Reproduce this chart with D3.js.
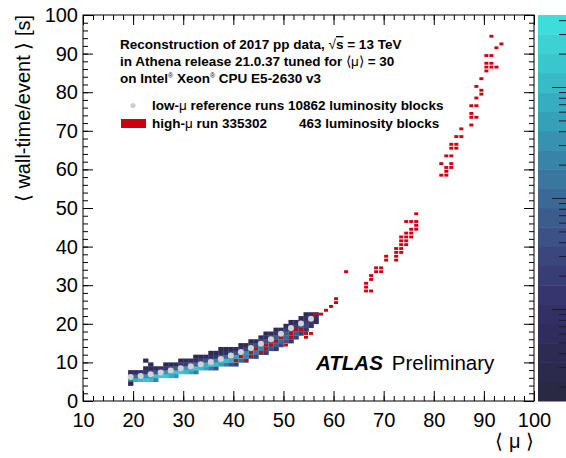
<!DOCTYPE html>
<html>
<head>
<meta charset="utf-8">
<script src="https://cdn.jsdelivr.net/npm/d3@7"></script>
<style>
body { margin: 0; background: #fff; }
svg { display: block; font-family: "Liberation Sans", Arial, Helvetica, sans-serif; }
</style>
</head>
<body>
<div id="chart"></div>
<script>
var width = 566
var height = 458

var xTicks = [10, 20, 30, 40, 50, 60, 70, 80, 90, 100]
var yTicks = [0, 10, 20, 30, 40, 50, 60, 70, 80, 90, 100]

// low-mu reference runs: mean wall-time per <mu>
var refMu = [19.5, 21.5, 23.5, 25.5, 27.5, 29.5, 31.5, 33.5, 35.5, 37.5,
    39.5, 41.5, 43.5, 45.5, 47.5, 49.5, 51.5, 53.5, 55.5]
var refTime = [6.2, 6.5, 6.9, 7.4, 7.9, 8.5, 9.0, 9.5, 10.1, 10.9,
    11.8, 12.7, 13.7, 14.8, 16.0, 17.4, 18.9, 20.1, 21.3]

// 2D histogram of the reference runs: [mu bin, lowest time bin, colour level of each bin going up]
var refCells = [
    [19, 5, [12, 8, 3]],
    [20, 5, [15, 10, 3]],
    [21, 5, [16, 12, 4]],
    [22, 5, [17, 13, 5, 2]],
    [23, 5, [16, 14, 6, 2]],
    [24, 5, [12, 17, 8, 3]],
    [25, 6, [17, 12, 4]],
    [26, 6, [17, 13, 5, 2]],
    [27, 6, [15, 15, 7, 2]],
    [28, 6, [13, 17, 9, 3]],
    [29, 7, [17, 12, 5, 2]],
    [30, 7, [16, 14, 6, 2]],
    [31, 7, [14, 16, 8, 3]],
    [32, 7, [11, 17, 10, 4, 2]],
    [33, 8, [16, 13, 6, 2]],
    [34, 8, [14, 15, 8, 3]],
    [35, 8, [11, 17, 10, 4, 2]],
    [36, 8, [8, 16, 12, 5, 2]],
    [37, 9, [14, 15, 8, 3, 2]],
    [38, 9, [11, 16, 10, 4, 2]],
    [39, 9, [8, 15, 12, 6, 2]],
    [40, 9, [6, 13, 14, 8, 3]],
    [41, 10, [10, 14, 11, 5, 2]],
    [42, 10, [7, 12, 13, 7, 3]],
    [43, 11, [10, 13, 11, 6, 2]],
    [44, 11, [7, 11, 13, 8, 3]],
    [45, 12, [9, 12, 11, 6, 3]],
    [46, 12, [6, 10, 12, 8, 4, 2]],
    [47, 13, [8, 11, 11, 7, 3]],
    [48, 13, [5, 9, 11, 9, 5, 2]],
    [49, 14, [7, 10, 10, 7, 3]],
    [50, 15, [8, 10, 9, 6, 3]],
    [51, 15, [5, 8, 10, 8, 4, 2]],
    [52, 16, [6, 9, 9, 6, 3]],
    [53, 17, [6, 8, 8, 5, 2]],
    [54, 18, [5, 7, 6, 4, 2]],
    [55, 19, [4, 5, 5, 3]],
    [56, 20, [3, 4, 2]]
]
// isolated bins off the band: [mu bin, time bin, level]
var refExtra = [[19, 4, 2], [22, 10, 1], [23, 9, 2]]

// high-mu run 335302, filled bins (bin centres)
var runMu = [40.5, 41.5, 42.5, 43.5, 43.5, 44.5, 45.5, 46.5, 46.5, 47.5, 47.5, 48.5, 49.5, 50.5, 51.5, 51.5,
    52.5, 53.5, 54.5, 55.5, 54.5, 56.5, 57.5, 58.5, 59.5, 60.5, 60.5, 62.5,
    66.5, 66.5, 66.5, 67.5, 67.5, 67.5, 68.5, 68.5, 69.5, 69.5, 70.5, 70.5,
    72.5, 72.5, 72.5, 72.5, 73.5, 73.5, 73.5, 73.5, 73.5, 74.5, 74.5, 74.5, 74.5, 74.5,
    75.5, 75.5, 75.5, 75.5, 76.5, 76.5, 76.5, 76.5,
    81.5, 81.5, 82.5, 82.5, 82.5, 82.5, 83.5, 83.5, 83.5, 83.5, 83.5, 84.5, 84.5, 84.5,
    85.5, 85.5, 87.5, 87.5, 87.5, 87.5, 88.5, 88.5, 88.5, 88.5, 89.5, 89.5, 89.5,
    90.5, 90.5, 90.5, 90.5, 91.5, 91.5, 91.5, 91.5, 92.5, 92.5, 93.5]
var runTime = [10.5, 11.5, 10.5, 11.5, 12.5, 13.5, 12.5, 13.5, 14.5, 14.5, 15.5, 15.5, 16.5, 14.5, 16.5, 17.5,
    18.5, 18.5, 16.5, 17.5, 17.5, 22.5, 22.5, 23.5, 24.5, 25.5, 26.5, 33.5,
    28.5, 29.5, 30.5, 28.5, 31.5, 32.5, 33.5, 34.5, 33.5, 34.5, 36.5, 37.5,
    36.5, 37.5, 38.5, 39.5, 38.5, 39.5, 40.5, 41.5, 42.5, 40.5, 41.5, 42.5, 43.5, 46.5,
    42.5, 43.5, 44.5, 46.5, 44.5, 45.5, 46.5, 48.5,
    58.5, 61.5, 58.5, 59.5, 60.5, 63.5, 60.5, 61.5, 63.5, 65.5, 66.5, 65.5, 66.5, 68.5,
    68.5, 70.5, 71.5, 73.5, 74.5, 76.5, 73.5, 76.5, 78.5, 81.5, 79.5, 80.5, 83.5,
    85.5, 86.5, 87.5, 89.5, 86.5, 87.5, 89.5, 94.5, 86.5, 91.5, 92.5]

var plotL = 83, plotR = 534, plotT = 15, plotB = 401

var svg = d3.select("#chart").append("svg")
    .attr("width", width)
    .attr("height", height)

var x = d3.scaleLinear().domain([10, 100]).range([plotL, plotR])
var y = d3.scaleLinear().domain([0, 100]).range([plotB, plotT])

// palette, dark (low) to cyan (high), in 20 bands
var nBands = 20
var paletteFn = d3.interpolateRgbBasis(["#2a2944", "#2d2a55", "#342f68", "#3b3f78", "#3c5588",
    "#3a7099", "#378eaf", "#36abc0", "#3ac5cc", "#3fdcdc"])
var bands = d3.range(nBands).map(i => paletteFn(i / (nBands - 1)))

// colour bar on the right
var zScale = d3.scaleLog().domain([0.15, 450]).range([plotB, plotT])
var barY = d3.scaleLinear().domain([0, nBands]).range([plotB, plotT])
svg.selectAll(".band")
    .data(bands)
    .join("rect")
    .attr("x", 538)
    .attr("width", 40)
    .attr("y", (d, i) => barY(i + 1))
    .attr("height", (d, i) => barY(i) - barY(i + 1) + 0.5)
    .attr("fill", d => d)
svg.selectAll(".ztick")
    .data(zScale.ticks())
    .join("line")
    .attr("x1", d => Math.abs(Math.log10(d) - Math.round(Math.log10(d))) < 1e-6 ? 552 : 559)
    .attr("x2", 570)
    .attr("y1", d => zScale(d))
    .attr("y2", d => zScale(d))
    .attr("stroke", "#1c1c30")
    .attr("stroke-width", 1)

// histogram bins
var cells = []
refCells.forEach(function(c) {
    c[2].forEach(function(lv, k) { cells.push({mu: c[0], t: c[1] + k, lv: lv}) })
})
refExtra.forEach(function(c) { cells.push({mu: c[0], t: c[1], lv: c[2]}) })

var plot = svg.append("g")
plot.selectAll(".cell")
    .data(cells)
    .join("rect")
    .attr("x", d => x(d.mu))
    .attr("y", d => y(d.t + 1))
    .attr("width", d => x(d.mu + 1) - x(d.mu) + 0.3)
    .attr("height", d => y(d.t) - y(d.t + 1) + 0.3)
    .attr("fill", d => bands[d.lv])

// high-mu run bins
var bw = x(1) - x(0), bh = y(0) - y(1)
plot.selectAll(".run")
    .data(d3.zip(runMu, runTime))
    .join("rect")
    .attr("x", d => x(d[0]) - bw / 2 + 0.5)
    .attr("y", d => y(d[1]) - bh / 2 + 0.5)
    .attr("width", bw - 1)
    .attr("height", bh - 1)
    .attr("fill", "#cc0010")

// mean of reference runs
plot.selectAll(".ref")
    .data(d3.zip(refMu, refTime))
    .join("circle")
    .attr("cx", d => x(d[0]))
    .attr("cy", d => y(d[1]))
    .attr("r", 3)
    .attr("fill", "#d2d2d2")

// axes, ROOT style ticks inside the frame
var minorX = d3.range(10, 101, 2)
var minorY = d3.range(0, 101, 2)
function tickStyle(g) {
    g.select(".domain").remove()
    g.selectAll(".tick line").attr("stroke", "#000")
}
svg.append("g").attr("transform", "translate(0," + plotB + ")")
    .call(d3.axisBottom(x).tickValues(minorX).tickSize(-5).tickFormat(""))
    .call(tickStyle)
svg.append("g").attr("transform", "translate(0," + plotT + ")")
    .call(d3.axisTop(x).tickValues(minorX).tickSize(-5).tickFormat(""))
    .call(tickStyle)
svg.append("g").attr("transform", "translate(" + plotL + ",0)")
    .call(d3.axisLeft(y).tickValues(minorY).tickSize(-5).tickFormat(""))
    .call(tickStyle)
svg.append("g").attr("transform", "translate(" + plotR + ",0)")
    .call(d3.axisRight(y).tickValues(minorY).tickSize(-5).tickFormat(""))
    .call(tickStyle)

var xAxis = svg.append("g").attr("transform", "translate(0," + plotB + ")")
    .call(d3.axisBottom(x).tickValues(xTicks).tickSize(-10).tickPadding(12))
    .call(tickStyle)
xAxis.selectAll("text").attr("font-size", 20).attr("fill", "#000")
    .style("font-family", '"Liberation Sans", Arial, sans-serif')
svg.append("g").attr("transform", "translate(0," + plotT + ")")
    .call(d3.axisTop(x).tickValues(xTicks).tickSize(-10).tickFormat(""))
    .call(tickStyle)
var yAxis = svg.append("g").attr("transform", "translate(" + plotL + ",0)")
    .call(d3.axisLeft(y).tickValues(yTicks).tickSize(-10).tickPadding(5))
    .call(tickStyle)
yAxis.selectAll("text").attr("font-size", 20).attr("fill", "#000")
    .style("font-family", '"Liberation Sans", Arial, sans-serif')
svg.append("g").attr("transform", "translate(" + plotR + ",0)")
    .call(d3.axisRight(y).tickValues(yTicks).tickSize(-10).tickFormat(""))
    .call(tickStyle)

svg.append("rect")
    .attr("x", plotL).attr("y", plotT)
    .attr("width", plotR - plotL).attr("height", plotB - plotT)
    .attr("fill", "none").attr("stroke", "#000").attr("stroke-width", 1)

// axis titles
svg.append("text")
    .attr("x", plotR).attr("y", 448)
    .attr("text-anchor", "end")
    .attr("font-size", 20)
    .text("\u27e8 \u03bc \u27e9")
svg.append("text")
    .attr("transform", "translate(30," + plotT + ") rotate(-90)")
    .attr("text-anchor", "end")
    .attr("font-size", 20)
    .text("\u27e8 wall-time/event \u27e9 [s]")

// description and legend
var info = svg.append("g").attr("font-size", 13.5).attr("font-weight", "bold")
var l1 = info.append("text").attr("x", 120).attr("y", 49)
l1.append("tspan").text("Reconstruction of 2017 pp data, ")
l1.append("tspan").attr("font-weight", "normal").text("\u221a")
l1.append("tspan").style("text-decoration", "overline").text("s")
l1.append("tspan").text(" = 13 TeV")
var l2 = info.append("text").attr("x", 120).attr("y", 66)
l2.append("tspan").text("in Athena release 21.0.37 tuned for ")
l2.append("tspan").attr("font-weight", "normal").text("\u27e8\u03bc\u27e9")
l2.append("tspan").text(" = 30")
var l3 = info.append("text").attr("x", 120).attr("y", 83)
l3.append("tspan").text("on Intel")
l3.append("tspan").attr("font-size", 7).attr("font-weight", "normal").attr("dy", -5).text("\u00ae")
l3.append("tspan").attr("dy", 5).text(" Xeon")
l3.append("tspan").attr("font-size", 7).attr("font-weight", "normal").attr("dy", -5).text("\u00ae")
l3.append("tspan").attr("dy", 5).text(" CPU E5-2630 v3")

svg.append("circle").attr("cx", 133).attr("cy", 105.5).attr("r", 2.6).attr("fill", "#cfcfcf")
var l4 = info.append("text").attr("x", 152).attr("y", 110)
l4.append("tspan").text("low-")
l4.append("tspan").attr("font-weight", "normal").text("\u03bc")
l4.append("tspan").text(" reference runs 10862 luminosity blocks")

svg.append("rect").attr("x", 121).attr("y", 119).attr("width", 25).attr("height", 9).attr("fill", "#cc0010")
var l5 = info.append("text").attr("x", 152).attr("y", 128)
l5.append("tspan").text("high-")
l5.append("tspan").attr("font-weight", "normal").text("\u03bc")
l5.append("tspan").text(" run 335302")
info.append("text").attr("x", 299).attr("y", 128).text("463 luminosity blocks")

// ATLAS label
var atlas = svg.append("text").attr("x", 316).attr("y", 370).attr("font-size", 20.5)
atlas.append("tspan").attr("font-weight", "bold").attr("font-style", "italic").text("ATLAS")
atlas.append("tspan").attr("dx", 9).text("Preliminary")
</script>
</body>
</html>
